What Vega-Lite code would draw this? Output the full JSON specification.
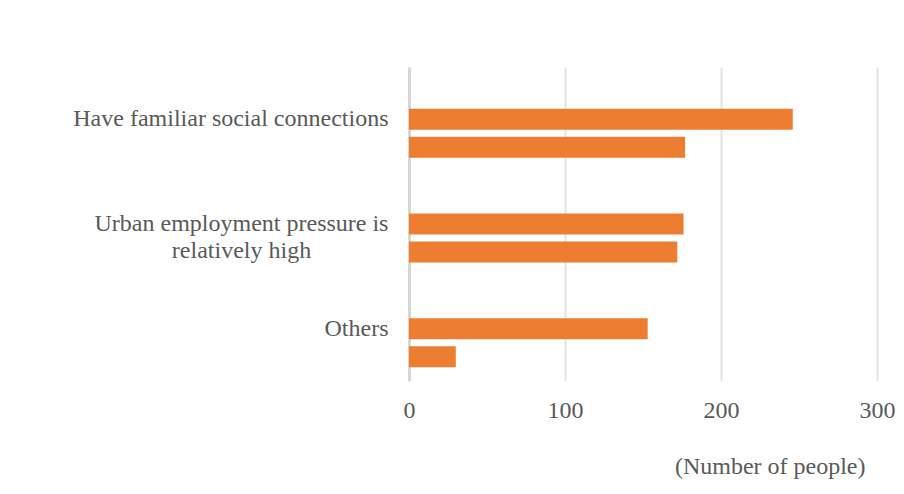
{
  "$schema": "https://vega.github.io/schema/vega-lite/v6.json",
  "width": 468,
  "height": 314,
  "autosize": {"type": "none"},
  "padding": {"left": 409, "top": 67, "right": 27, "bottom": 113},
  "background": "white",
  "config": {
    "view": {"stroke": null},
    "font": "Liberation Serif",
    "axis": {"labelFont": "Liberation Serif", "titleFont": "Liberation Serif", "labelColor": "#595959", "titleColor": "#595959", "labelFontSize": 24, "titleFontSize": 24, "titleFontWeight": "normal"}
  },
  "data": {
    "values": [
      {"category": "Have familiar social connections", "series": "A", "value": 246},
      {"category": "Have familiar social connections", "series": "B", "value": 177},
      {"category": "Urban employment pressure is relatively high", "series": "A", "value": 176},
      {"category": "Urban employment pressure is relatively high", "series": "B", "value": 172},
      {"category": "Others", "series": "A", "value": 153},
      {"category": "Others", "series": "B", "value": 30}
    ]
  },
  "mark": {"type": "bar", "color": "#ED7D31"},
  "encoding": {
    "y": {
      "field": "category",
      "type": "nominal",
      "sort": ["Have familiar social connections", "Urban employment pressure is relatively high", "Others"],
      "scale": {"paddingInner": 0, "paddingOuter": 0},
      "axis": {
        "title": null,
        "domain": false,
        "ticks": false,
        "grid": false,
        "labelLimit": 0,
        "labelLineHeight": 27,
        "labelExpr": "datum.value == 'Urban employment pressure is relatively high' ? ['Urban employment pressure is', 'relatively high'] : datum.label",
        "labelAlign": {"condition": {"test": "datum.value == 'Urban employment pressure is relatively high'", "value": "center"}, "value": "right"},
        "labelPadding": {"condition": {"test": "datum.value == 'Urban employment pressure is relatively high'", "value": 168}, "value": 21}
      }
    },
    "yOffset": {
      "field": "series",
      "type": "nominal",
      "scale": {"domain": ["blank", "A", "B"], "paddingInner": 0.25, "paddingOuter": 0.495}
    },
    "x": {
      "field": "value",
      "type": "quantitative",
      "scale": {"domain": [0, 300], "nice": false},
      "axis": {
        "values": [0, 100, 200, 300],
        "title": "(Number of people)",
        "domain": false,
        "ticks": false,
        "labelFlush": false,
        "labelPadding": 17,
        "titlePadding": 32,
        "titleAnchor": "end",
        "titleX": 456,
        "titleAlign": "right",
        "gridColor": {"condition": {"test": "datum.value == 0", "value": "#d6d6d6"}, "value": "#e4e4e4"},
        "gridWidth": {"condition": {"test": "datum.value == 0", "value": 3}, "value": 2}
      }
    }
  }
}
